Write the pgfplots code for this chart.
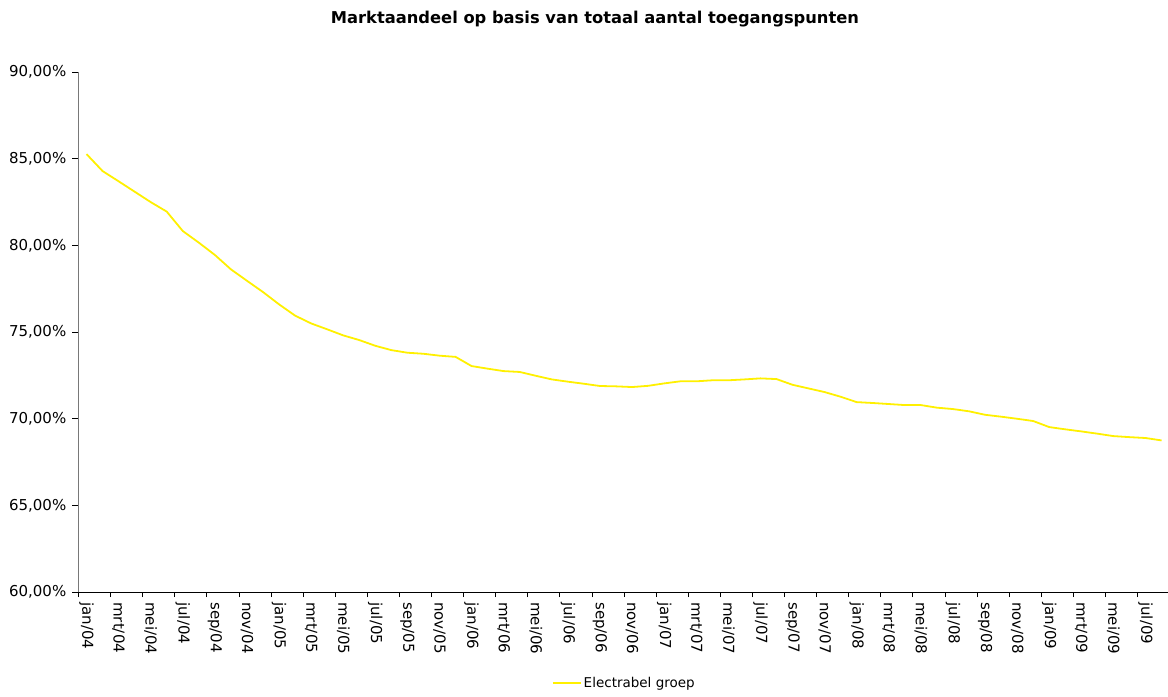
\documentclass[border=0pt]{standalone}
\usepackage{fontspec}
\setmainfont{DejaVu Sans}
\usepackage{pgfplots}
\pgfplotsset{compat=1.18}
\definecolor{lineyellow}{RGB}{255,240,0}
\definecolor{axgray}{RGB}{120,120,120}
\begin{document}
\begin{tikzpicture}
\useasboundingbox (-78.5bp,-104.9bp) rectangle (1089.5bp,592.1bp);
\begin{axis}[
  at={(0,0)}, anchor=south west,
  scale only axis, width=1089.5bp, height=520bp,
  xmin=-0.5, xmax=67.4, ymin=60, ymax=90,
  axis x line=bottom, axis y line=left,
  axis line style={-},
  x axis line style={black, line width=0.8bp},
  y axis line style={axgray, line width=1bp},
  tick align=outside,
  xtick={0,2,...,66},
  xticklabels={jan/04,mrt/04,mei/04,jul/04,sep/04,nov/04,
               jan/05,mrt/05,mei/05,jul/05,sep/05,nov/05,
               jan/06,mrt/06,mei/06,jul/06,sep/06,nov/06,
               jan/07,mrt/07,mei/07,jul/07,sep/07,nov/07,
               jan/08,mrt/08,mei/08,jul/08,sep/08,nov/08,
               jan/09,mrt/09,mei/09,jul/09},
  minor xtick={-0.5,1.5,...,65.5},
  major x tick style={draw=none},
  minor x tick style={black, line width=0.8bp},
  minor tick length=5bp,
  major tick length=6bp,
  ytick={60,65,70,75,80,85,90},
  yticklabels={{60,00\%},{65,00\%},{70,00\%},{75,00\%},{80,00\%},{85,00\%},{90,00\%}},
  major y tick style={black, line width=0.8bp},
  xticklabel shift=4bp,
  yticklabel shift=6bp,
  xticklabel style={rotate=-90, anchor=west, inner sep=0pt,
    font=\fontsize{15bp}{18bp}\selectfont},
  yticklabel style={anchor=east, inner sep=0pt,
    font=\fontsize{15bp}{18bp}\selectfont},
  legend style={at={(0.501,-0.175)}, anchor=center, draw=none, fill=none,
    font=\fontsize{13.5bp}{16bp}\selectfont},
  legend image code/.code={\draw[#1] (0bp,0bp) -- (28bp,0bp);},
]
\addplot[lineyellow, line width=1.8bp] coordinates {
(0,85.27) (1,84.29) (2,83.70) (3,83.10) (4,82.50) (5,81.95) (6,80.83) (7,80.16)
(8,79.45) (9,78.62) (10,77.96) (11,77.31) (12,76.60) (13,75.95) (14,75.50) (15,75.16)
(16,74.81) (17,74.54) (18,74.21) (19,73.96) (20,73.81) (21,73.75) (22,73.64) (23,73.57)
(24,73.04) (25,72.89) (26,72.75) (27,72.70) (28,72.48) (29,72.27) (30,72.14) (31,72.02)
(32,71.89) (33,71.87) (34,71.83) (35,71.90) (36,72.04) (37,72.16) (38,72.16) (39,72.22)
(40,72.22) (41,72.27) (42,72.33) (43,72.29) (44,71.96) (45,71.75) (46,71.54) (47,71.27)
(48,70.96) (49,70.91) (50,70.85) (51,70.79) (52,70.79) (53,70.64) (54,70.56) (55,70.43)
(56,70.23) (57,70.12) (58,70.00) (59,69.87) (60,69.52) (61,69.39) (62,69.27) (63,69.14)
(64,69.00) (65,68.94) (66,68.89) (67,68.75)
};
\addlegendentry{Electrabel groep}
\end{axis}
\node[font=\bfseries\fontsize{16.3bp}{19bp}\selectfont] at (516.5bp,573bp)
  {Marktaandeel op basis van totaal aantal toegangspunten};
\end{tikzpicture}
\end{document}
